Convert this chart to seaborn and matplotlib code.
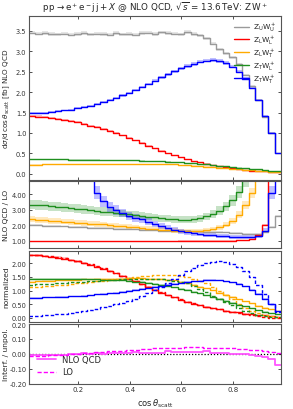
import numpy as np
import matplotlib
matplotlib.use("Agg")
import matplotlib.pyplot as plt
import seaborn as sns
from matplotlib.ticker import FormatStrFormatter, MultipleLocator

# ---------------- data ----------------
edges = [round(0.01 + 0.025 * i, 4) for i in range(40)]

labels = [r"$\mathrm{Z_UW_U^+}$", r"$\mathrm{Z_LW_L^+}$", r"$\mathrm{Z_LW_T^+}$",
          r"$\mathrm{Z_TW_L^+}$", r"$\mathrm{Z_TW_T^+}$"]
colors = ["#9a9a9a", "#ff0000", "#ffaa00", "#1f8f1f", "#0000ff"]

# panel 1: absolute NLO QCD distributions [fb]
abs_UU = [3.45, 3.43, 3.44, 3.42, 3.41, 3.43, 3.40, 3.42, 3.44, 3.41, 3.43, 3.42, 3.40,
          3.44, 3.41, 3.42, 3.40, 3.44, 3.45, 3.42, 3.46, 3.44, 3.43, 3.41, 3.47, 3.42,
          3.39, 3.31, 3.18, 3.05, 2.95, 2.85, 2.68, 2.42, 2.15, 1.80, 1.40, 1.00, 0.50]
abs_LL = [1.41, 1.40, 1.39, 1.37, 1.35, 1.32, 1.29, 1.26, 1.22, 1.18, 1.14, 1.10, 1.05,
          1.00, 0.94, 0.88, 0.82, 0.76, 0.69, 0.63, 0.57, 0.51, 0.46, 0.41, 0.36, 0.32,
          0.28, 0.25, 0.22, 0.19, 0.16, 0.14, 0.12, 0.10, 0.08, 0.07, 0.06, 0.05, 0.04]
abs_LT = [0.225, 0.227, 0.229, 0.231, 0.233, 0.235, 0.236, 0.237, 0.238, 0.239, 0.240,
          0.241, 0.242, 0.243, 0.243, 0.244, 0.244, 0.244, 0.243, 0.242, 0.240, 0.236,
          0.230, 0.222, 0.213, 0.203, 0.192, 0.180, 0.168, 0.155, 0.142, 0.128, 0.115,
          0.102, 0.090, 0.078, 0.066, 0.055, 0.045]
abs_TL = [0.36, 0.36, 0.36, 0.36, 0.355, 0.355, 0.35, 0.35, 0.35, 0.345, 0.345, 0.34,
          0.34, 0.34, 0.335, 0.33, 0.33, 0.325, 0.32, 0.315, 0.31, 0.30, 0.29, 0.28, 0.27,
          0.26, 0.245, 0.23, 0.215, 0.20, 0.185, 0.17, 0.155, 0.14, 0.125, 0.11, 0.095,
          0.08, 0.065]
abs_TT = [1.48, 1.485, 1.49, 1.51, 1.53, 1.55, 1.57, 1.60, 1.63, 1.67, 1.71, 1.76, 1.81,
          1.86, 1.92, 1.98, 2.05, 2.12, 2.20, 2.28, 2.36, 2.44, 2.51, 2.58, 2.64, 2.69,
          2.74, 2.77, 2.78, 2.76, 2.71, 2.62, 2.50, 2.33, 2.10, 1.80, 1.42, 1.00, 0.50]

# panel 2: NLO QCD / LO
k_UU = [2.02, 2.00, 1.98, 1.96, 1.95, 1.93, 1.91, 1.90, 1.88, 1.86, 1.84, 1.83, 1.81,
        1.79, 1.77, 1.76, 1.74, 1.72, 1.70, 1.68, 1.67, 1.66, 1.65, 1.64, 1.63, 1.62,
        1.61, 1.60, 1.58, 1.57, 1.55, 1.53, 1.50, 1.47, 1.45, 1.45, 1.55, 1.90, 2.60]
k_LL = [1.00, 1.00, 1.00, 1.00, 1.00, 1.00, 1.00, 1.00, 1.00, 1.00, 1.00, 1.00, 1.00,
        1.00, 1.00, 1.00, 1.00, 1.00, 1.00, 1.00, 1.00, 1.00, 1.00, 1.01, 1.01, 1.01,
        1.01, 1.02, 1.02, 1.02, 1.03, 1.03, 1.04, 1.06, 1.12, 1.40, 2.05, 9.0, 12.0]
k_LT = [2.39, 2.36, 2.33, 2.30, 2.27, 2.24, 2.21, 2.18, 2.15, 2.12, 2.09, 2.06, 2.02,
        1.99, 1.96, 1.92, 1.88, 1.84, 1.80, 1.76, 1.73, 1.70, 1.67, 1.65, 1.64, 1.64,
        1.66, 1.70, 1.77, 1.88, 2.05, 2.30, 2.70, 3.30, 4.10, 5.20, 6.50, 8.00, 10.0]
k_TL = [3.34, 3.31, 3.28, 3.24, 3.20, 3.16, 3.12, 3.07, 3.03, 2.98, 2.94, 2.89, 2.85,
        2.80, 2.76, 2.71, 2.66, 2.61, 2.56, 2.51, 2.46, 2.42, 2.39, 2.37, 2.37, 2.40,
        2.47, 2.58, 2.74, 2.95, 3.22, 3.60, 4.15, 4.90, 5.80, 7.00, 8.50, 10.0, 12.0]
k_TT = [30.0, 25.0, 20.0, 17.0, 14.0, 12.0, 10.0, 8.5, 7.3, 6.0, 4.10, 3.55, 3.20,
        3.00, 2.80, 2.62, 2.50, 2.38, 2.25, 2.10, 1.95, 1.82, 1.72, 1.63, 1.56, 1.50,
        1.45, 1.41, 1.37, 1.34, 1.31, 1.28, 1.26, 1.25, 1.27, 1.33, 1.65, 4.10, 9.00]

# panel 3: normalized shapes (NLO solid, LO dashed)
n_LL_nlo = [2.30, 2.29, 2.27, 2.24, 2.21, 2.17, 2.12, 2.07, 2.01, 1.95, 1.88, 1.80, 1.72,
            1.63, 1.54, 1.44, 1.34, 1.24, 1.13, 1.03, 0.93, 0.84, 0.75, 0.67, 0.59, 0.52,
            0.46, 0.41, 0.36, 0.31, 0.27, 0.23, 0.20, 0.16, 0.13, 0.11, 0.09, 0.07, 0.05]
n_LL_lo = [2.31, 2.30, 2.28, 2.25, 2.22, 2.18, 2.13, 2.08, 2.02, 1.96, 1.89, 1.81, 1.73,
           1.64, 1.55, 1.45, 1.35, 1.25, 1.14, 1.04, 0.94, 0.85, 0.76, 0.68, 0.60, 0.53,
           0.47, 0.41, 0.36, 0.31, 0.27, 0.23, 0.19, 0.15, 0.12, 0.08, 0.05, 0.01, 0.01]
n_LT_nlo = [1.33, 1.34, 1.35, 1.36, 1.37, 1.38, 1.39, 1.40, 1.41, 1.41, 1.42, 1.43, 1.43,
            1.44, 1.44, 1.45, 1.45, 1.45, 1.44, 1.43, 1.42, 1.40, 1.37, 1.33, 1.28, 1.22,
            1.15, 1.08, 1.01, 0.93, 0.85, 0.77, 0.69, 0.61, 0.53, 0.45, 0.38, 0.31, 0.25]
n_LT_lo = [1.12, 1.14, 1.16, 1.18, 1.20, 1.22, 1.24, 1.27, 1.29, 1.31, 1.34, 1.36, 1.39,
           1.42, 1.44, 1.47, 1.50, 1.52, 1.54, 1.56, 1.57, 1.58, 1.57, 1.55, 1.50, 1.44,
           1.36, 1.26, 1.14, 0.99, 0.84, 0.68, 0.52, 0.38, 0.26, 0.17, 0.11, 0.07, 0.04]
n_TL_nlo = [1.43, 1.43, 1.43, 1.43, 1.43, 1.42, 1.42, 1.42, 1.42, 1.41, 1.41, 1.40, 1.39,
            1.38, 1.37, 1.35, 1.33, 1.31, 1.28, 1.25, 1.21, 1.17, 1.12, 1.07, 1.02, 0.96,
            0.90, 0.84, 0.77, 0.70, 0.63, 0.56, 0.49, 0.42, 0.35, 0.29, 0.23, 0.18, 0.13]
n_TL_lo = [1.22, 1.23, 1.24, 1.25, 1.27, 1.28, 1.30, 1.31, 1.33, 1.34, 1.36, 1.37, 1.38,
           1.40, 1.41, 1.42, 1.43, 1.43, 1.43, 1.42, 1.41, 1.39, 1.36, 1.32, 1.26, 1.17,
           1.06, 0.94, 0.82, 0.70, 0.58, 0.46, 0.35, 0.26, 0.18, 0.12, 0.08, 0.05, 0.03]
n_TT_nlo = [0.74, 0.745, 0.75, 0.76, 0.77, 0.78, 0.79, 0.80, 0.82, 0.84, 0.86, 0.88, 0.91,
            0.93, 0.96, 0.99, 1.03, 1.06, 1.10, 1.14, 1.18, 1.22, 1.25, 1.29, 1.32, 1.34,
            1.36, 1.38, 1.38, 1.37, 1.34, 1.30, 1.24, 1.16, 1.04, 0.89, 0.71, 0.50, 0.25]
n_TT_lo = [0.06, 0.07, 0.09, 0.11, 0.13, 0.16, 0.19, 0.22, 0.26, 0.30, 0.34, 0.39, 0.44,
           0.50, 0.56, 0.63, 0.71, 0.80, 0.90, 1.01, 1.13, 1.27, 1.42, 1.57, 1.71, 1.83,
           1.93, 2.01, 2.06, 2.08, 2.06, 1.99, 1.88, 1.72, 1.50, 1.22, 0.88, 0.52, 0.20]

# panel 4: interference / unpolarized
int_nlo = [-0.005, -0.004, -0.006, -0.008, -0.004, -0.007, -0.003, 0.002, 0.004, 0.002,
           0.005, 0.003, 0.008, 0.006, 0.010, 0.005, 0.012, 0.004, 0.006, 0.008, 0.010,
           0.018, 0.014, 0.012, 0.016, 0.013, 0.015, 0.017, 0.010, 0.004, 0.006, 0.003,
           0.000, -0.002, -0.008, -0.015, -0.022, -0.030, -0.075]
int_lo = [-0.012, -0.011, -0.010, -0.008, -0.006, -0.004, -0.001, 0.002, 0.005, 0.008,
          0.011, 0.014, 0.017, 0.020, 0.023, 0.026, 0.029, 0.032, 0.035, 0.037, 0.039,
          0.041, 0.042, 0.043, 0.044, 0.044, 0.044, 0.043, 0.042, 0.041, 0.039, 0.037,
          0.035, 0.032, 0.029, 0.025, 0.021, 0.016, 0.010]

# relative uncertainty band half-widths (panel 1 thin, panel 2 scale bands)
rel1 = [0.012, 0.02, 0.03, 0.02, 0.015]
rel2 = [0.03, 0.03, 0.08, 0.09, 0.10]

# ---------------- plotting ----------------
sns.set_theme(style="ticks")
plt.rcParams["font.family"] = ["DejaVu Sans"]
plt.rcParams["axes.edgecolor"] = "#555555"
plt.rcParams["axes.linewidth"] = 0.8
plt.rcParams["axes.unicode_minus"] = False

W, H = 293, 410
fig = plt.figure(figsize=(W / 100, H / 100), dpi=100)
L, R = 29 / W, 281 / W


def box(top, bottom):
    return [L, (H - bottom) / H, R - L, (bottom - top) / H]


ax1 = fig.add_axes(box(17, 181))
ax2 = fig.add_axes(box(182, 249), sharex=ax1)
ax3 = fig.add_axes(box(252, 323), sharex=ax1)
ax4 = fig.add_axes(box(325, 385), sharex=ax1)

E = np.array(edges)


def ext(v):
    v = list(v)
    return v + [v[-1]]


def step(ax, vals, color, lw=1.0, ls="-", label=None, alpha=1.0):
    sns.lineplot(x=E, y=ext(vals), ax=ax, color=color, lw=lw, linestyle=ls,
                 drawstyle="steps-post", label=label, estimator=None, sort=False,
                 alpha=alpha, legend=False)


def band(ax, vals, rel, color, alpha):
    v = np.array(ext(vals))
    ax.fill_between(E, v * (1 - rel), v * (1 + rel), step="post", color=color,
                    alpha=alpha, lw=0)


abs_sets = [abs_UU, abs_LL, abs_LT, abs_TL, abs_TT]
k_sets = [k_UU, k_LL, k_LT, k_TL, k_TT]

for vals, c, r, lab in zip(abs_sets, colors, rel1, labels):
    band(ax1, vals, r, c, 0.25)
    step(ax1, vals, c, lw=1.0, label=lab)

for vals, c, r in zip(k_sets, colors, rel2):
    band(ax2, vals, r, c, 0.25)
    step(ax2, vals, c, lw=1.0)

n_nlo = [n_LL_nlo, n_LT_nlo, n_TL_nlo, n_TT_nlo]
n_lo = [n_LL_lo, n_LT_lo, n_TL_lo, n_TT_lo]
for vn, vl, c in zip(n_nlo, n_lo, colors[1:]):
    band(ax3, vn, 0.02, c, 0.2)
    step(ax3, vn, c, lw=1.0)
    step(ax3, vl, c, lw=1.0, ls=(0, (2.5, 1.5)))

ax4.axhline(0, color="black", ls=(0, (1, 1.5)), lw=0.9)
step(ax4, int_nlo, "#ff55ff", lw=1.3, label="NLO QCD")
step(ax4, int_lo, "#ff00ff", lw=1.0, ls=(0, (3, 1.5)), label="LO")

# axes cosmetics
ax1.set_xlim(0.01, 0.985)
ax1.set_ylim(-0.15, 3.86)
ax2.set_ylim(0.55, 4.85)
ax3.set_ylim(-0.15, 2.45)
ax4.set_ylim(-0.2, 0.2)

ax1.yaxis.set_major_locator(MultipleLocator(0.5))
ax1.yaxis.set_major_formatter(FormatStrFormatter("%.1f"))
ax2.yaxis.set_major_locator(MultipleLocator(1.0))
ax2.yaxis.set_major_formatter(FormatStrFormatter("%.2f"))
ax3.yaxis.set_major_locator(MultipleLocator(0.5))
ax3.yaxis.set_major_formatter(FormatStrFormatter("%.2f"))
ax4.yaxis.set_major_locator(MultipleLocator(0.1))
ax4.yaxis.set_major_formatter(FormatStrFormatter("%.2f"))
ax4.xaxis.set_major_locator(MultipleLocator(0.2))
ax4.xaxis.set_major_formatter(FormatStrFormatter("%.1f"))

for ax in (ax1, ax2, ax3, ax4):
    ax.tick_params(direction="in", top=True, right=True, length=2.5, width=0.6,
                   labelsize=4.8, pad=1.8, colors="#333333")
    ax.set_xlabel("")
ax4.tick_params(axis="x", labelsize=5)
for ax in (ax1, ax2, ax3):
    ax.tick_params(labelbottom=False)

lab_kw = dict(fontsize=5.4, labelpad=3)
ax1.set_ylabel(r"d$\sigma$/d$\,\cos\theta_\mathrm{scatt}$ [fb] NLO QCD", fontsize=5.2)
ax2.set_ylabel("NLO QCD / LO", **lab_kw)
ax3.set_ylabel("normalized", **lab_kw)
ax4.set_ylabel("Interf. / unpol.", **lab_kw)
ax4.set_xlabel(r"$\cos\theta_\mathrm{scatt}$", fontsize=6, labelpad=3)
ax1.yaxis.set_label_coords(-0.066, 0.5)
for ax in (ax2, ax3, ax4):
    ax.yaxis.set_label_coords(-0.078, 0.5)

ax1.set_title(r"$\mathrm{p\,p\to e^+e^-j\,j}+X$ @ NLO QCD, $\sqrt{s}$ = 13.6$\,$TeV: $\mathrm{Z\,W^+}$",
              fontsize=6.3, pad=4)

ax1.legend(loc="upper right", fontsize=5.3, frameon=False, handlelength=2.0,
           labelspacing=0.08, borderaxespad=0.25, handletextpad=0.6)
ax4.legend(loc="lower left", fontsize=6, frameon=False, handlelength=2.3,
           labelspacing=0.4, borderaxespad=0.5)

fig.savefig("out.png", dpi=100)
